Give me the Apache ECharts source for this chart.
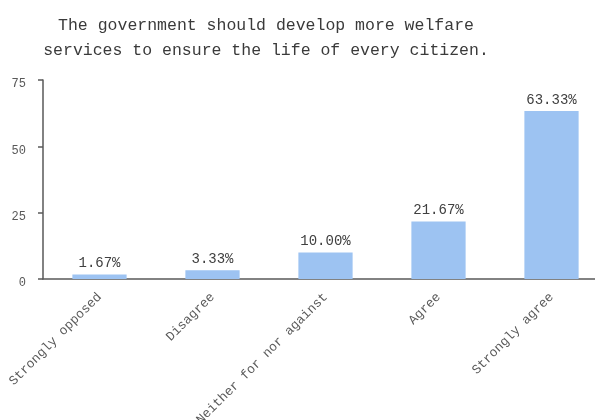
<!DOCTYPE html>
<html>
<head>
<meta charset="utf-8">
<script src="https://cdn.jsdelivr.net/npm/echarts@6/dist/echarts.min.js"></script>
<style>
  html, body { margin: 0; padding: 0; background: #ffffff; }
  #chart { width: 595px; height: 420px; }
</style>
</head>
<body>
<div id="chart"></div>
<script>
// Survey answers and their share of respondents (%)
const categories = ['Strongly opposed', 'Disagree', 'Neither for nor against', 'Agree', 'Strongly agree'];
const shares = [1.67, 3.33, 10.00, 21.67, 63.33];
const yTicks = [0, 25, 50, 75];

const FONT = '"Liberation Mono", "DejaVu Sans Mono", monospace';

const chart = echarts.init(document.getElementById('chart'), null, { renderer: 'canvas' });
chart.setOption({
  animation: false,
  backgroundColor: '#ffffff',
  title: {
    text: 'The government should develop more welfare\nservices to ensure the life of every citizen.',
    left: 261,
    textAlign: 'center',
    top: 8,
    textStyle: {
      fontFamily: FONT,
      fontSize: 16.5,
      fontWeight: 'normal',
      color: '#3a3a3a',
      lineHeight: 25
    }
  },
  // plot area runs a little past the right edge of the page
  grid: {
    left: 43, width: 565, top: 80, height: 199,
    containLabel: false,
    outerBoundsMode: 'none'
  },
  xAxis: {
    type: 'category',
    data: categories,
    axisLine: { lineStyle: { color: '#595959', width: 1.5 } },
    axisTick: { show: false },
    axisLabel: {
      rotate: 45,
      interval: 0,
      margin: 16,
      fontFamily: FONT,
      fontSize: 13,
      color: '#595959'
    }
  },
  yAxis: {
    type: 'value',
    min: yTicks[0],
    max: yTicks[yTicks.length - 1],
    interval: 25,
    axisLine: { show: true, lineStyle: { color: '#595959', width: 1.5 } },
    axisTick: { show: true, length: 5, lineStyle: { color: '#595959', width: 1.5 } },
    splitLine: { show: false },
    axisLabel: {
      margin: 17,
      fontFamily: FONT,
      fontSize: 12,
      color: '#595959',
      verticalAlign: 'top',
      padding: [-2, 0, 0, 0]
    }
  },
  series: [{
    type: 'bar',
    data: shares,
    barWidth: '48%',
    itemStyle: { color: '#9dc3f2' },
    label: {
      show: true,
      position: 'top',
      distance: 4,
      fontFamily: FONT,
      fontSize: 14,
      color: '#404040',
      formatter: p => p.value.toFixed(2) + '%'
    }
  }]
});
</script>
</body>
</html>
